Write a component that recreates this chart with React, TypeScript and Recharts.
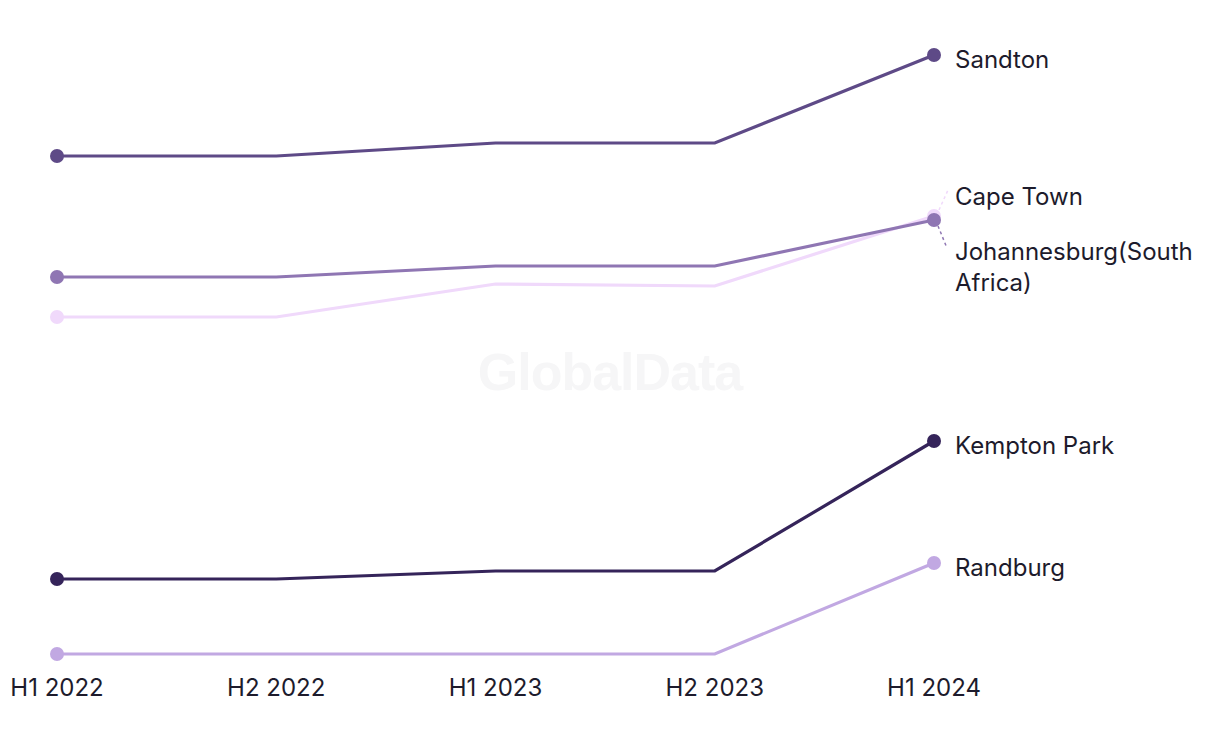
import React from "react";
import { LineChart, Line, XAxis, YAxis } from "recharts";

// Half-year periods on the x axis
const periods = ["H1 2022", "H2 2022", "H1 2023", "H2 2023", "H1 2024"];

// Series values (arbitrary units)
const sandton = [101, 101, 103.6, 103.6, 121.2];
const capeTown = [68.8, 68.8, 75.4, 75, 89];
const johannesburg = [76.8, 76.8, 79, 79, 88.2];
const kemptonPark = [16.4, 16.4, 18, 18, 44];
const randburg = [1.4, 1.4, 1.4, 1.4, 19.6];

const TEXT_COLOR = "#1d1b2c";
const FONT = "Inter, 'Noto Sans', sans-serif";

interface SeriesDef {
  key: string;
  name: string;
  values: number[];
  color: string;
  labelLines: string[];
  // label offset from the end point, and optional dashed leader
  labelDy: number;
  leader?: [number, number, number, number];
}

const series: SeriesDef[] = [
  { key: "sandton", name: "Sandton", values: sandton, color: "#5e4a87", labelLines: ["Sandton"], labelDy: 0 },
  {
    key: "capeTown",
    name: "Cape Town",
    values: capeTown,
    color: "#f0d9fb",
    labelLines: ["Cape Town"],
    labelDy: -24,
    leader: [5, -6, 14, -26],
  },
  {
    key: "johannesburg",
    name: "Johannesburg(South Africa)",
    values: johannesburg,
    color: "#8f76b3",
    labelLines: ["Johannesburg(South", "Africa)"],
    labelDy: 27,
    leader: [4, 6, 13, 28],
  },
  { key: "kemptonPark", name: "Kempton Park", values: kemptonPark, color: "#35245a", labelLines: ["Kempton Park"], labelDy: 0 },
  { key: "randburg", name: "Randburg", values: randburg, color: "#c1a8e2", labelLines: ["Randburg"], labelDy: 0 },
];

const data = periods.map((period, i) => {
  const row: Record<string, string | number> = { period };
  series.forEach((s) => {
    row[s.key] = s.values[i];
  });
  return row;
});

const LAST = periods.length - 1;

function makeDot(color: string) {
  return (props: { cx?: number; cy?: number; index?: number }) => {
    const { cx, cy, index } = props;
    if (cx == null || cy == null || (index !== 0 && index !== LAST)) {
      return <g key={`dot-${index}`} />;
    }
    return <circle key={`dot-${index}`} cx={cx} cy={cy} r={7} fill={color} />;
  };
}

function makeLabel(s: SeriesDef) {
  return (props: { x?: number; y?: number; index?: number }) => {
    const { x, y, index } = props;
    if (x == null || y == null || index !== LAST) return <g key={`lbl-${index}`} />;
    const tx = x + 21;
    const ty = y + s.labelDy + 13;
    return (
      <g key={`lbl-${index}`}>
        {s.leader && (
          <line
            x1={x + s.leader[0]}
            y1={y + s.leader[1]}
            x2={x + s.leader[2]}
            y2={y + s.leader[3]}
            stroke={s.color}
            strokeWidth={1.5}
            strokeDasharray="3 3"
          />
        )}
        <text x={tx} y={ty} fill={TEXT_COLOR} fontSize={24} fontFamily={FONT}>
          {s.labelLines.map((line, i) => (
            <tspan key={i} x={tx} dy={i === 0 ? 0 : 31}>
              {line}
            </tspan>
          ))}
        </text>
      </g>
    );
  };
}

export default function App() {
  return (
    <div style={{ position: "relative", width: 1204, height: 720, fontFamily: FONT }}>
      <div
        style={{
          position: "absolute",
          left: 0,
          width: 1204,
          top: 334,
          textAlign: "center",
          fontSize: 52,
          fontWeight: 700,
          color: "#f6f6f7",
          fontFamily: "'Liberation Sans', Arial, sans-serif",
          letterSpacing: -1,
        }}
      >
        GlobalData
      </div>
      <div style={{ position: "absolute", left: 0, top: 0 }}>
        <LineChart width={1204} height={720} data={data} margin={{ top: 33, right: 278, bottom: 27, left: 49 }}>
          <XAxis
            dataKey="period"
            axisLine={false}
            tickLine={false}
            height={40}
            tickMargin={12}
            interval={0}
            tick={{ fill: TEXT_COLOR, fontSize: 24, fontFamily: FONT }}
          />
          <YAxis hide domain={[0, 124]} />
          {series.map((s) => (
            <Line
              key={s.key}
              type="linear"
              dataKey={s.key}
              name={s.name}
              stroke={s.color}
              strokeWidth={3.2}
              dot={makeDot(s.color)}
              activeDot={false}
              label={makeLabel(s)}
              isAnimationActive={false}
            />
          ))}
        </LineChart>
      </div>
    </div>
  );
}
